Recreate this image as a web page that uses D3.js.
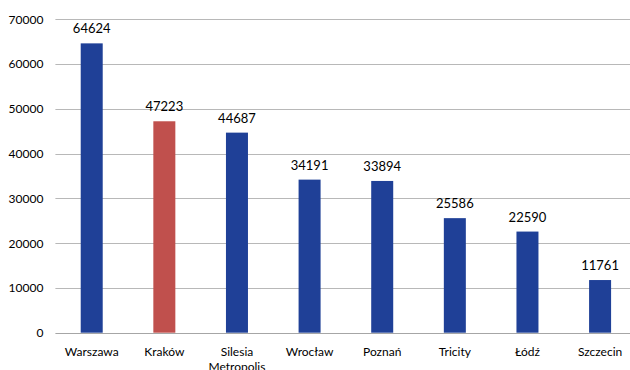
<!DOCTYPE html>
<html>
<head>
<meta charset="utf-8">
<script src="https://cdn.jsdelivr.net/npm/d3@7"></script>
<style>
  html, body { margin: 0; padding: 0; background: #fff; }
  svg { display: block; font-family: Lato, "Open Sans", sans-serif; }
</style>
</head>
<body>
<svg id="chart" width="630" height="370"></svg>
<script>
// Office space stock by city
const cities = ["Warszawa", "Kraków", "Silesia Metropolis", "Wrocław", "Poznań", "Tricity", "Łódź", "Szczecin"];
const values = [64624, 47223, 44687, 34191, 33894, 25586, 22590, 11761];
const highlight = ["Kraków"];
const yTicks = [0, 10000, 20000, 30000, 40000, 50000, 60000, 70000];

const svg = d3.select("#chart");
const plot = { left: 55.4, right: 636.4, top: 19.3, bottom: 332.7 };

const x = d3.scaleBand().domain(cities).range([plot.left, plot.right]).paddingInner(0.697).paddingOuter(0.3485);
const y = d3.scaleLinear().domain([0, 70000]).range([plot.bottom, plot.top]);

// horizontal gridlines
svg.append("g").selectAll("line").data(yTicks).join("line")
  .attr("x1", plot.left).attr("x2", plot.right)
  .attr("y1", d => Math.round(y(d)) + 0.5).attr("y2", d => Math.round(y(d)) + 0.5)
  .attr("stroke", d => d === 0 ? "#a6a6a6" : "#b8b8b8").attr("stroke-width", 1);

// y axis labels
const yAxis = d3.axisLeft(y).tickValues(yTicks).tickSize(0).tickPadding(0).tickFormat(d3.format("d"));
const ga = svg.append("g").attr("transform", `translate(${plot.left - 12},0)`).call(yAxis);
ga.select(".domain").remove();
ga.selectAll("text").attr("font-size", 12).attr("fill", "#000").attr("font-family", "Lato, sans-serif");

// bars
svg.append("g").selectAll("rect").data(cities).join("rect")
  .attr("x", d => x(d)).attr("width", x.bandwidth())
  .attr("y", (d, i) => y(values[i])).attr("height", (d, i) => y(0) - y(values[i]))
  .attr("fill", d => highlight.includes(d) ? "#c0504d" : "#1f4097");

// value labels
svg.append("g").selectAll("text").data(cities).join("text")
  .attr("x", d => x(d) + x.bandwidth() / 2)
  .attr("y", (d, i) => y(values[i]) - 10)
  .attr("text-anchor", "middle").attr("font-size", 13).attr("fill", "#000")
  .text((d, i) => values[i]);

// category labels (wrapped on spaces)
const xl = svg.append("g").selectAll("text").data(cities).join("text")
  .attr("x", d => x(d) + x.bandwidth() / 2)
  .attr("y", 356)
  .attr("text-anchor", "middle").attr("font-size", 12).attr("fill", "#000");
xl.each(function(d) {
  const words = d.split(" ");
  const t = d3.select(this);
  words.forEach((w, k) => {
    t.append("tspan").attr("x", x(d) + x.bandwidth() / 2).attr("dy", k === 0 ? 0 : 15).text(w);
  });
});
</script>
</body>
</html>
